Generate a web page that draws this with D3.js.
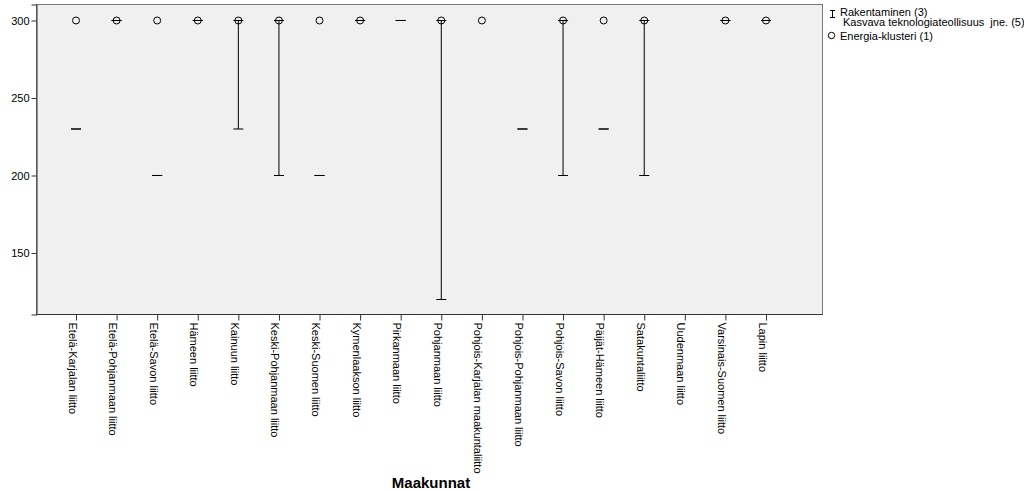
<!DOCTYPE html>
<html>
<head>
<meta charset="utf-8">
<script src="https://cdn.jsdelivr.net/npm/d3@7"></script>
<style>
  body { margin: 0; background: #fff; }
  text { font-family: "Liberation Sans", Arial, sans-serif; }
  .pre { white-space: pre; }
</style>
</head>
<body>
<svg id="chart" width="1024" height="491"></svg>
<script>
const categories = [
  "Etelä-Karjalan liitto", "Etelä-Pohjanmaan liitto", "Etelä-Savon liitto", "Hämeen liitto",
  "Kainuun liitto", "Keski-Pohjanmaan liitto", "Keski-Suomen liitto", "Kymenlaakson liitto",
  "Pirkanmaan liitto", "Pohjanmaan liitto", "Pohjois-Karjalan maakuntaliitto", "Pohjois-Pohjanmaan liitto",
  "Pohjois-Savon liitto", "Päijät-Hämeen liitto", "Satakuntaliitto", "Uudenmaan liitto",
  "Varsinais-Suomen liitto", "Lapin liitto"
];
// Rakentaminen (3) – range high end, Kasvava teknologiateollisuus jne. (5) – range low end
const rakentaminen = [230, 300, 200, 300, 300, 300, 200, 300, 300, 300, null, 230, 300, 230, 300, null, 300, 300];
const kasvava      = [230, 300, 200, 300, 230, 200, 200, 300, 300, 120, null, 230, 200, 230, 200, null, 300, 300];
// Energia-klusteri (1)
const energia      = [300, 300, 300, 300, 300, 300, 300, 300, null, 300, 300, null, 300, 300, 300, null, 300, 300];
const yTicks = [150, 200, 250, 300];
const legendLabels = ["Rakentaminen (3)", "Kasvava teknologiateollisuus  jne. (5)", "Energia-klusteri (1)"];
const xTitle = "Maakunnat";

const svg = d3.select("#chart");
const plot = { left: 36.5, right: 822.5, top: 4.5, bottom: 314.5 };

const x = d3.scalePoint().domain(categories).range([76, 766]);
const y = d3.scaleLinear().domain([110.32, 310.32]).range([plot.bottom, plot.top]);

// plot background
svg.append("rect")
  .attr("x", plot.left).attr("y", plot.top)
  .attr("width", plot.right - plot.left).attr("height", plot.bottom - plot.top)
  .attr("fill", "#f0f0f0").attr("stroke", "#777").attr("stroke-width", 1);

// Y axis
const yAxis = d3.axisLeft(y).tickValues(yTicks).tickSize(5).tickPadding(2).tickFormat(d3.format("d"));
const gy = svg.append("g").attr("transform", `translate(${plot.left},0)`).call(yAxis);
gy.select(".domain").attr("stroke", "#333");
gy.selectAll(".tick line").attr("stroke", "#333");
gy.selectAll(".tick text").attr("font-size", 11).attr("fill", "#000")
  .attr("font-family", "Liberation Sans, Arial, sans-serif");

// X axis
const xAxis = d3.axisBottom(x).tickSize(6).tickSizeOuter(0);
const gx = svg.append("g").attr("transform", `translate(0,${plot.bottom})`).call(xAxis);
gx.select(".domain").remove();
svg.append("line").attr("x1", plot.left).attr("x2", plot.right)
  .attr("y1", plot.bottom).attr("y2", plot.bottom).attr("stroke", "#333");
gx.selectAll(".tick line").attr("stroke", "#333");
gx.selectAll(".tick text")
  .attr("font-size", 11).attr("fill", "#000")
  .attr("font-family", "Liberation Sans, Arial, sans-serif")
  .attr("text-anchor", "start")
  .attr("dy", null)
  .attr("y", 0)
  .attr("transform", "translate(-8,8) rotate(90)");

// range bars
const capW = 10;
const ranges = categories.map((c, i) => ({ c, hi: rakentaminen[i], lo: kasvava[i] }))
  .filter(d => d.hi != null && d.lo != null);
const gr = svg.append("g").attr("stroke", "#000").attr("stroke-width", 1).attr("fill", "none");
ranges.forEach(d => {
  const hi = Math.max(d.hi, d.lo), lo = Math.min(d.hi, d.lo);
  const cx = x(d.c);
  if (hi !== lo) {
    gr.append("line").attr("x1", cx).attr("x2", cx).attr("y1", y(hi)).attr("y2", y(lo));
  }
  gr.append("line").attr("x1", cx - capW / 2).attr("x2", cx + capW / 2).attr("y1", y(hi)).attr("y2", y(hi));
  gr.append("line").attr("x1", cx - capW / 2).attr("x2", cx + capW / 2).attr("y1", y(lo)).attr("y2", y(lo));
});

// energia circles
svg.append("g").selectAll("circle")
  .data(categories.map((c, i) => ({ c, v: energia[i] })).filter(d => d.v != null))
  .join("circle")
  .attr("cx", d => x(d.c)).attr("cy", d => y(d.v)).attr("r", 3.5)
  .attr("fill", "none").attr("stroke", "#000").attr("stroke-width", 1);

// legend
const lg = svg.append("g");
lg.append("line").attr("x1", 832.5).attr("x2", 832.5).attr("y1", 10).attr("y2", 18).attr("stroke", "#000");
lg.append("line").attr("x1", 830).attr("x2", 835).attr("y1", 10.5).attr("y2", 10.5).attr("stroke", "#000");
lg.append("line").attr("x1", 830).attr("x2", 835).attr("y1", 17.5).attr("y2", 17.5).attr("stroke", "#000");
lg.append("text").attr("x", 840).attr("y", 16).attr("font-size", 11).text(legendLabels[0]);
lg.append("text").attr("class", "pre").attr("x", 843).attr("y", 26).attr("font-size", 11).text(legendLabels[1]);
lg.append("circle").attr("cx", 831.5).attr("cy", 35.5).attr("r", 3.2).attr("fill", "none").attr("stroke", "#000");
lg.append("text").attr("x", 840).attr("y", 40).attr("font-size", 11).text(legendLabels[2]);

// x title
svg.append("text").attr("x", 431).attr("y", 488).attr("text-anchor", "middle")
  .attr("font-size", 15).attr("font-weight", "bold").text(xTitle);
</script>
</body>
</html>
